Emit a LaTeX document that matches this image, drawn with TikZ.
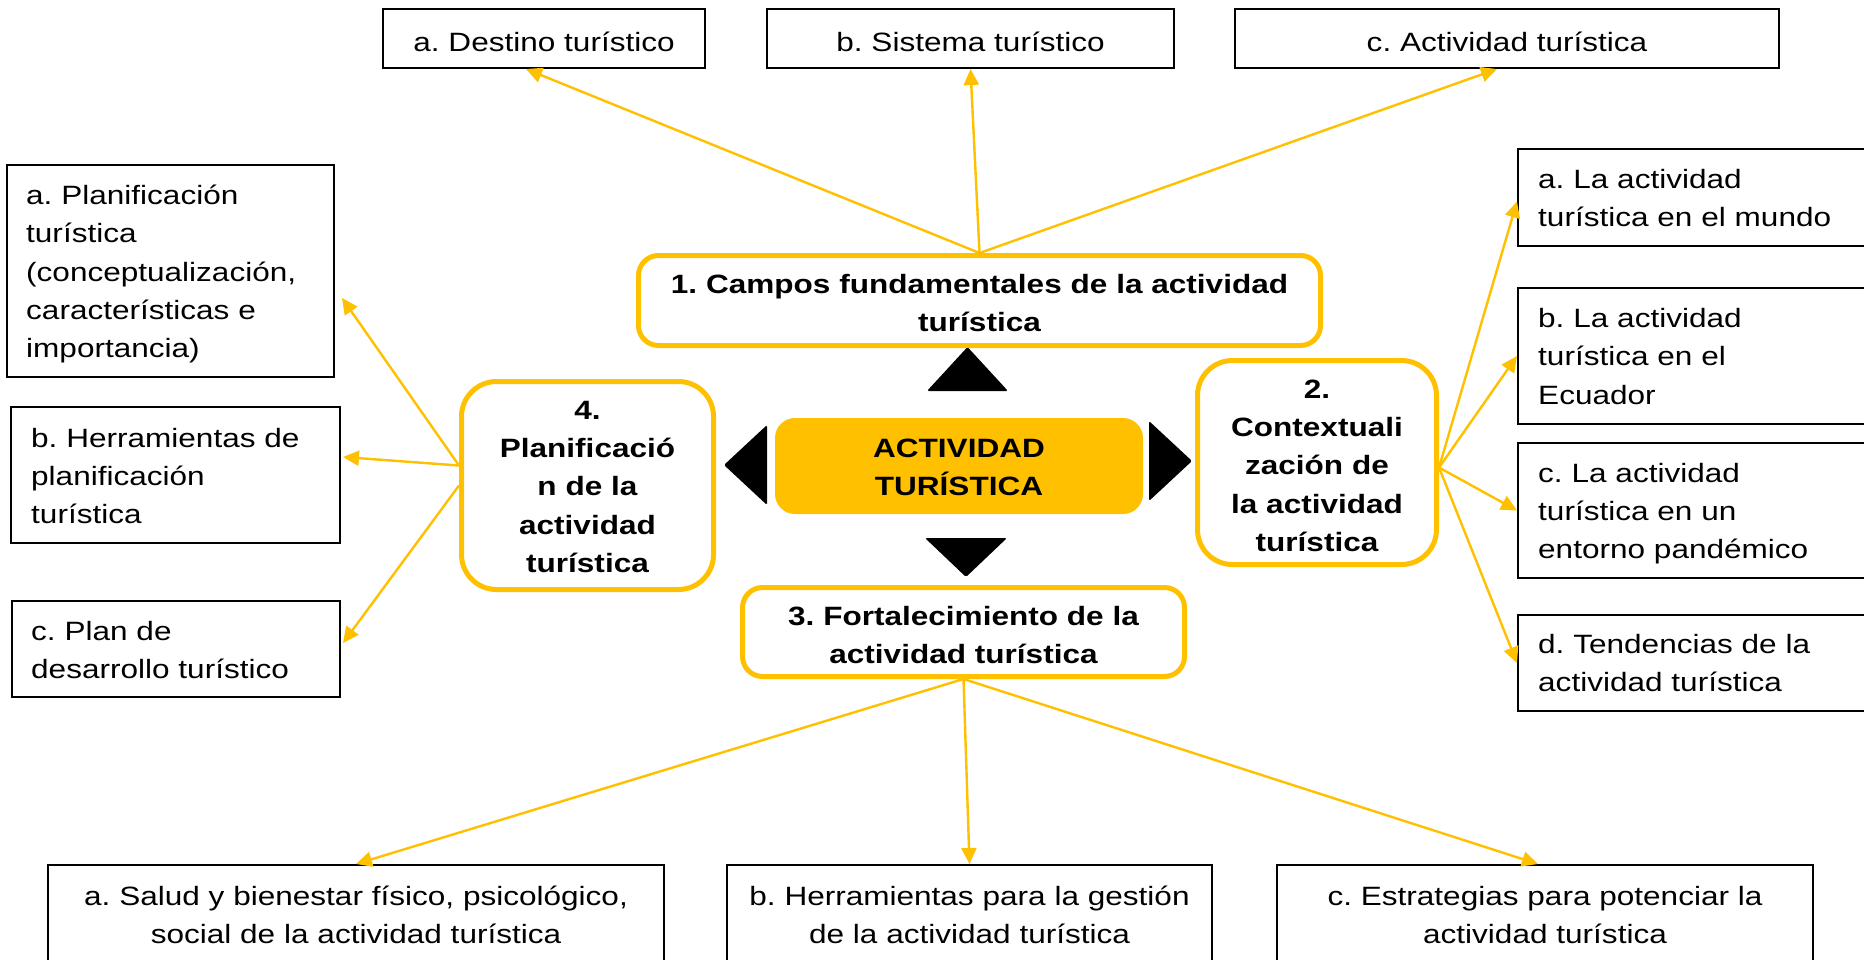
\documentclass[tikz,border=0pt]{standalone}
\usepackage{fontspec}
\setmainfont{Liberation Sans}[FakeStretch=1.19]
\usetikzlibrary{arrows.meta}
\definecolor{ygold}{HTML}{FFC000}
\frenchspacing
\tikzset{
  sbox/.style={draw=black, line width=2pt, rectangle, inner sep=0pt},
  ybox/.style={draw=ygold, line width=5pt, rectangle, inner sep=0pt},
  cbox/.style={fill=ygold, rectangle, inner sep=0pt, rounded corners=20pt},
  ctext/.style={inner sep=0pt, text width=800pt, align=center, anchor=base,
    font=\fontsize{26.5}{38.3}\selectfont\frenchspacing},
  ltext/.style={inner sep=0pt, text width=420pt, align=left, anchor=base west,
    font=\fontsize{26.5}{38.3}\selectfont\frenchspacing},
  btext/.style={ctext, font=\fontsize{26.5}{38.3}\selectfont\bfseries\frenchspacing},
  arr/.style={draw=ygold, line width=2.4pt, -{Triangle[length=16pt,width=15pt]}},
}
\begin{document}
\begin{tikzpicture}[x=1pt,y=-1pt]
\useasboundingbox[fill=white] (0,0) rectangle (1864,959);

% top boxes
\node[sbox, minimum width=322pt, minimum height=59pt] (T1) at (544,38.5) {};
\node[ctext] (t1) at (544,51) {a. Destino turístico};
\node[sbox, minimum width=407pt, minimum height=59pt] (T2) at (970.5,38.5) {};
\node[ctext] (t2) at (970.5,51) {b. Sistema turístico};
\node[sbox, minimum width=544pt, minimum height=59pt] (T3) at (1507,38.5) {};
\node[ctext] (t3) at (1507,51) {c. Actividad turística};

% left boxes
\node[sbox, minimum width=327pt, minimum height=212pt] (L1) at (170.5,271) {};
\node[ltext] (l1) at (26,204.5) {a. Planificación\\turística\\(conceptualización,\\características e\\importancia)};
\node[sbox, minimum width=329pt, minimum height=136pt] (L2) at (175.5,475) {};
\node[ltext] (l2) at (31,447) {b. Herramientas de\\planificación\\turística};
\node[sbox, minimum width=328pt, minimum height=96pt] (L3) at (176,649) {};
\node[ltext] (l3) at (31,640) {c. Plan de\\desarrollo turístico};

% right boxes
\node[sbox, minimum width=362pt, minimum height=97pt] (R1) at (1699,197.5) {};
\node[ltext] (r1) at (1538,188) {a. La actividad\\turística en el mundo};
\node[sbox, minimum width=362pt, minimum height=136pt] (R2) at (1699,356) {};
\node[ltext] (r2) at (1538,327.5) {b. La actividad\\turística en el\\Ecuador};
\node[sbox, minimum width=362pt, minimum height=135pt] (R3) at (1699,510.5) {};
\node[ltext] (r3) at (1538,482) {c. La actividad\\turística en un\\entorno pandémico};
\node[sbox, minimum width=362pt, minimum height=96pt] (R4) at (1699,663) {};
\node[ltext] (r4) at (1538,653.5) {d. Tendencias de la\\actividad turística};

% bottom boxes
\node[sbox, minimum width=616pt, minimum height=110pt] (B1) at (356,920) {};
\node[ctext] (b1) at (356,905) {a. Salud y bienestar físico, psicológico,\\social de la actividad turística};
\node[sbox, minimum width=485pt, minimum height=110pt] (B2) at (969.5,920) {};
\node[ctext] (b2) at (969.5,905) {b. Herramientas para la gestión\\de la actividad turística};
\node[sbox, minimum width=536pt, minimum height=110pt] (B3) at (1545,920) {};
\node[ctext] (b3) at (1545,905) {c. Estrategias para potenciar la\\actividad turística};

% yellow boxes
\node[ybox, rounded corners=20pt, minimum width=682pt, minimum height=90pt] (Y1) at (979.5,300.5) {};
\node[btext] (y1) at (979.5,293.5) {1. Campos fundamentales de la actividad\\turística};
\node[ybox, rounded corners=35pt, minimum width=239pt, minimum height=204pt] (Y2) at (1317,462.5) {};
\node[btext] (y2) at (1317,398.3) {2.\\Contextuali\\zación de\\la actividad\\turística};
\node[ybox, rounded corners=35pt, minimum width=252pt, minimum height=208pt] (Y4) at (587.5,485.5) {};
\node[btext] (y4) at (587.5,419.3) {4.\\Planificació\\n de la\\actividad\\turística};
\node[ybox, rounded corners=20pt, minimum width=442pt, minimum height=89pt] (Y3) at (963.5,632) {};
\node[btext] (y3) at (963.5,625) {3. Fortalecimiento de la\\actividad turística};

% centre
\node[cbox, minimum width=368pt, minimum height=96pt] (C) at (959,466) {};
\node[btext] (c) at (959,457) {ACTIVIDAD\\TURÍSTICA};

% black triangles
\fill[black, rounded corners=1.5pt] (927,391) -- (967.5,347) -- (1008,391) -- cycle;
\fill[black, rounded corners=1.5pt] (925,538) -- (1007,538) -- (966,577) -- cycle;
\fill[black, rounded corners=1.5pt] (767,425) -- (767,505) -- (724,465) -- cycle;
\fill[black, rounded corners=1.5pt] (1149,421) -- (1149,501) -- (1192,461) -- cycle;

% connectors
\draw[arr] (Y1.north) -- ([xshift=-18pt]T1.south);
\draw[arr] (Y1.north) -- (T2.south);
\draw[arr] (Y1.north) -- ([xshift=-10pt]T3.south);

\draw[arr] ([yshift=20pt]Y4.west) -- ([xshift=7pt,yshift=-27pt]L1.east);
\draw[arr] ([yshift=20pt]Y4.west) -- ([xshift=2pt,yshift=18pt]L2.east);
\draw[arr] (Y4.west) -- ([xshift=2pt,yshift=6pt]L3.east);

\draw[arr] ([yshift=-5pt]Y2.east) -- ([yshift=-4pt]R1.west);
\draw[arr] ([yshift=-5pt]Y2.east) -- (R2.west);
\draw[arr] ([yshift=-5pt]Y2.east) -- (R3.west);
\draw[arr] ([yshift=-5pt]Y2.east) -- (R4.west);

\draw[arr] (Y3.south) -- (B1.north);
\draw[arr] (Y3.south) -- (B2.north);
\draw[arr] (Y3.south) -- ([xshift=-7pt]B3.north);
\end{tikzpicture}
\end{document}
